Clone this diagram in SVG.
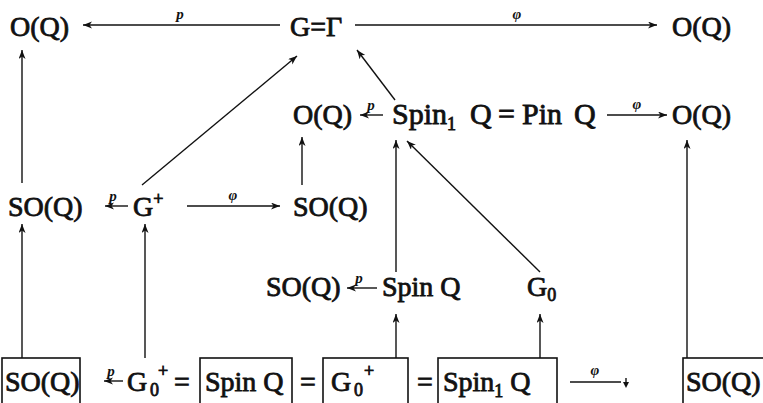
<svg xmlns="http://www.w3.org/2000/svg" width="763" height="403" viewBox="0 0 763 403">
<defs>
<style>
.t{font-family:"Liberation Serif","Times New Roman",serif;font-size:28px;fill:#111;stroke:#111;stroke-width:0.8}
.s{font-size:18px}
.r2{font-size:30px}
.l{font-family:"Liberation Serif","Times New Roman",serif;font-size:15px;font-style:italic;font-weight:bold;fill:#111;text-anchor:middle}
.c{stroke:#111;stroke-width:1.4;fill:none}
.a{marker-end:url(#ah)}
.b{fill:none;stroke:#111;stroke-width:1.6}
</style>
<marker id="ah" markerUnits="userSpaceOnUse" markerWidth="10" markerHeight="8" refX="9" refY="3.5" orient="auto">
<path d="M0,0 L9,3.5 L0,7 L2.5,3.5 z" fill="#111"/>
</marker>
</defs>
<rect width="763" height="403" fill="#fff"/>

<g id="n-OQ-top-left"><text class="t" x="10" y="36">O(Q)</text></g>
<g id="n-G-Gamma"><text class="t" x="290" y="36">G=Γ</text></g>
<g id="n-OQ-top-right"><text class="t" x="672" y="36">O(Q)</text></g>

<g id="n-OQ-mid"><text class="t" x="293" y="124">O(Q)</text></g>
<g id="n-Spin1-Pin"><text class="t r2" x="392" y="124">Spin<tspan class="s" dy="6">1</tspan></text><text class="t r2" x="470" y="124">Q</text><text class="t r2" x="498" y="124">=</text><text class="t r2" x="522" y="124">Pin</text><text class="t r2" x="574" y="124">Q</text></g>
<g id="n-OQ-mid-right"><text class="t" x="672" y="124">O(Q)</text></g>

<g id="n-SOQ-row3-left"><text class="t" x="8" y="216">SO(Q)</text></g>
<g id="n-Gplus"><text class="t" x="133" y="216">G<tspan class="s" dy="-11">+</tspan></text></g>
<g id="n-SOQ-row3-right"><text class="t" x="293" y="216">SO(Q)</text></g>

<g id="n-SOQ-row4"><text class="t" x="266" y="296">SO(Q)</text></g>
<g id="n-SpinQ-row4"><text class="t" x="382" y="296">Spin Q</text></g>
<g id="n-G0"><text class="t" x="527" y="296">G<tspan class="s" dy="5">0</tspan></text></g>

<g id="n-SOQ-box-left"><rect class="b" x="2" y="358" width="78" height="60"/><text class="t" x="5" y="391">SO(Q)</text></g>
<g id="n-G0plus"><text class="t" x="127" y="391">G</text><text class="t s" x="150" y="396">0</text><text class="t s" x="158" y="377">+</text><text class="t" x="174" y="391">=</text></g>
<g id="n-SpinQ-box"><rect class="b" x="200" y="358" width="92" height="60"/><text class="t" x="205" y="391">Spin Q</text></g>
<g id="n-eq2"><text class="t" x="300" y="391">=</text></g>
<g id="n-G0plus-box"><rect class="b" x="323" y="358" width="85" height="60"/><text class="t" x="331" y="391">G</text><text class="t s" x="354" y="396">0</text><text class="t s" x="364" y="377">+</text></g>
<g id="n-eq3"><text class="t" x="417" y="391">=</text></g>
<g id="n-Spin1Q-box"><rect class="b" x="438" y="358" width="119" height="60"/><text class="t" x="443" y="391">Spin<tspan class="s" dy="6">1</tspan><tspan dy="-6"> Q</tspan></text></g>
<g id="n-SOQ-box-right"><rect class="b" x="683" y="358" width="90" height="60"/><text class="t" x="686" y="391" font-size="27">SO(Q)</text></g>

<g id="connectors">
<line class="c a" x1="280" y1="25" x2="83" y2="25"/>
<text class="l" x="180" y="19">p</text>
<line class="c a" x1="355" y1="25" x2="657" y2="25"/>
<text class="l" x="517" y="19">φ</text>

<line class="c a" x1="383" y1="115" x2="360" y2="115"/>
<text class="l" x="371" y="110">p</text>
<line class="c a" x1="607" y1="115" x2="667" y2="115"/>
<text class="l" x="637" y="109">φ</text>

<line class="c a" x1="128" y1="206" x2="105" y2="206"/>
<text class="l" x="113" y="201">p</text>
<line class="c a" x1="187" y1="206" x2="280" y2="206"/>
<text class="l" x="233" y="200">φ</text>

<line class="c a" x1="377" y1="288" x2="347" y2="288"/>
<text class="l" x="359" y="283">p</text>

<line class="c a" x1="123" y1="381" x2="104" y2="381"/>
<text class="l" x="111" y="376">p</text>
<line class="c" x1="570" y1="382" x2="621" y2="382"/>
<path d="M626,378 L626,386" class="c"/>
<path d="M623,382 L629,382 L626,388 z" fill="#111"/>
<text class="l" x="595" y="375">φ</text>

<line class="c a" x1="22" y1="183" x2="22" y2="50"/>
<line class="c a" x1="22" y1="358" x2="22" y2="224"/>
<line class="c a" x1="145" y1="358" x2="145" y2="224"/>
<line class="c a" x1="302" y1="185" x2="302" y2="137"/>
<line class="c a" x1="396" y1="272" x2="396" y2="140"/>
<line class="c a" x1="396" y1="358" x2="396" y2="314"/>
<line class="c a" x1="540" y1="358" x2="540" y2="314"/>
<line class="c a" x1="687" y1="358" x2="687" y2="140"/>
<line class="c a" x1="142" y1="185" x2="297" y2="56"/>
<line class="c a" x1="395" y1="100" x2="357" y2="50"/>
<line class="c a" x1="540" y1="272" x2="407" y2="141"/>
</g>
</svg>
